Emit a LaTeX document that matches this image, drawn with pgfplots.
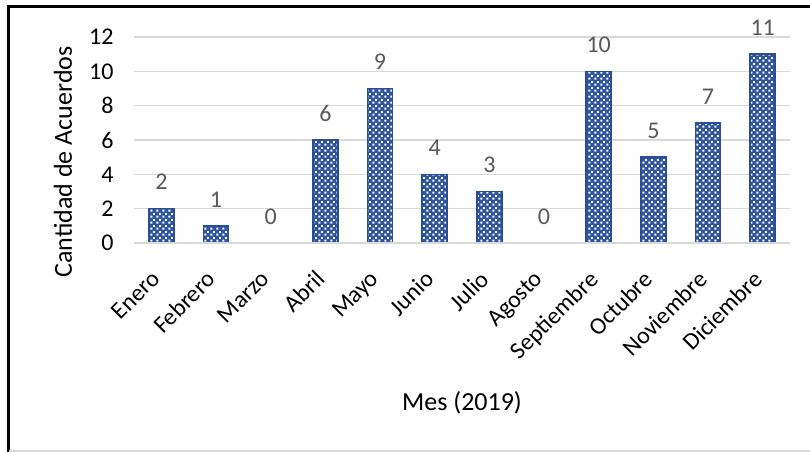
\documentclass[border=0pt]{standalone}
\usepackage{pgfplots}
\pgfplotsset{compat=1.18}
\usepackage{fontspec}
\setmainfont{Carlito}
\usetikzlibrary{patterns}
\definecolor{barblue}{RGB}{47,85,160}
\definecolor{baredge}{RGB}{42,78,150}
\definecolor{gridgray}{RGB}{217,217,217}
\definecolor{labgray}{RGB}{89,89,89}
\pgfdeclarepatternformonly{exceldots}{\pgfpointorigin}{\pgfqpoint{6bp}{6bp}}{\pgfqpoint{6bp}{6bp}}{%
  \pgfpathrectangle{\pgfqpoint{0.5bp}{0.5bp}}{\pgfqpoint{2.2bp}{2.2bp}}%
  \pgfpathrectangle{\pgfqpoint{3.5bp}{3.5bp}}{\pgfqpoint{2.2bp}{2.2bp}}%
  \pgfusepath{fill}}
\begin{document}
\begin{tikzpicture}
\useasboundingbox (0,0) rectangle (810bp,452bp);
\fill[white] (0,0) rectangle (810bp,452bp);
\begin{axis}[
  at={(134bp,209bp)}, anchor=south west,
  scale only axis, width=656bp, height=206bp,
  xmin=-0.5, xmax=11.5, ymin=0, ymax=12,
  ytick={0,2,...,12},
  xtick={0,...,11},
  xticklabels={Enero,Febrero,Marzo,Abril,Mayo,Junio,Julio,Agosto,Septiembre,Octubre,Noviembre,Diciembre},
  axis line style={draw=none},
  axis x line*=bottom,
  major tick length=0pt,
  ymajorgrids, grid style={gridgray, line width=1.5bp},
  /pgf/number format/assume math mode=true,
  yticklabel style={font=\fontsize{24bp}{28bp}\selectfont, text=black, xshift=-17bp},
  xticklabel style={font=\fontsize{24bp}{27bp}\selectfont, xshift=-11bp, yshift=-26bp, rotate=45, anchor=north east, inner sep=0pt},
  ylabel={Cantidad de Acuerdos},
  ylabel style={font=\fontsize{26bp}{30bp}\selectfont, at={(axis description cs:0,0.5)}, anchor=center, yshift=71bp, xshift=-22bp},
  xlabel={Mes (2019)},
  xlabel style={font=\fontsize{26bp}{30bp}\selectfont, at={(axis description cs:0.5,0)}, anchor=center, yshift=-160bp},
  ybar, bar width=25bp,
  nodes near coords,
  nodes near coords style={font=\fontsize{24bp}{28bp}\selectfont, text=labgray, inner sep=0pt, anchor=south, yshift=18bp},
  clip=false,
]
\addplot[draw=baredge, line width=1.5bp, fill=barblue, postaction={pattern=exceldots, pattern color=white}] coordinates {
(0,2) (1,1) (2,0) (3,6) (4,9) (5,4) (6,3) (7,0) (8,10) (9,5) (10,7) (11,11)};
\draw[gridgray, line width=2bp] (axis cs:-0.5,0) -- (axis cs:11.5,0);
\end{axis}
\draw[black, line width=3bp] (8.5bp,0) -- (8.5bp,445.5bp) -- (810bp,445.5bp);
\draw[gridgray, line width=1.5bp] (8.5bp,1bp) -- (810bp,1bp);
\end{tikzpicture}
\end{document}
